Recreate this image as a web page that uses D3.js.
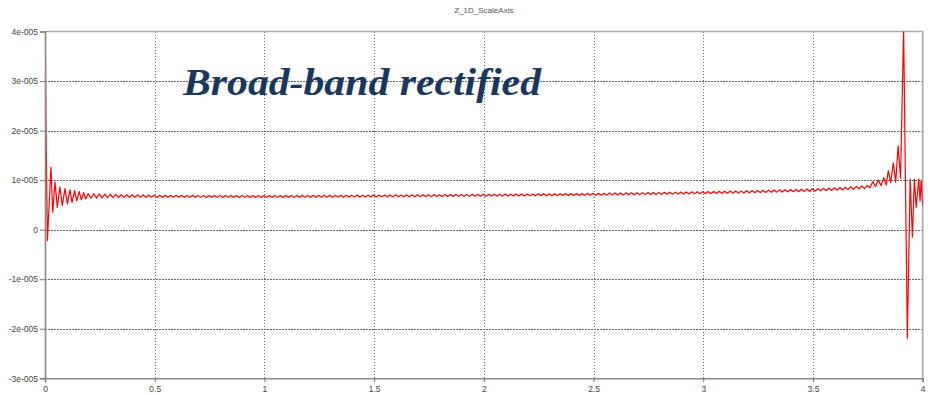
<!DOCTYPE html>
<html>
<head>
<meta charset="utf-8">
<script src="https://cdn.jsdelivr.net/npm/d3@7"></script>
<style>
  body { margin: 0; background: #fff; }
  svg { display: block; }
</style>
</head>
<body>
<svg id="chart" width="932" height="395"></svg>
<script>
// ---- data ----
const chartTitle = "Z_1D_ScaleAxis";
const annotation = "Broad-band rectified";

const xTicks = [0, 0.5, 1, 1.5, 2, 2.5, 3, 3.5, 4];
const xTickLabels = ["0", "0.5", "1", "1.5", "2", "2.5", "3", "3.5", "4"];
const yTicks = [-3e-5, -2e-5, -1e-5, 0, 1e-5, 2e-5, 3e-5, 4e-5];
const yTickLabels = ["-3e-005", "-2e-005", "-1e-005", "0", "1e-005", "2e-005", "3e-005", "4e-005"];

// signal values below are stored in micro-units (×1e-6)
const valueUnit = 1e-6;

// start-up transient
const headX = [0.000, 0.002, 0.004, 0.011, 0.027, 0.035, 0.0456, 0.056, 0.068, 0.079,
               0.091, 0.102, 0.114, 0.123, 0.135, 0.1445, 0.156, 0.1655, 0.176, 0.1855, 0.197];
const headY = [36.7, 36.3, 23.0, -2.2, 12.6, 3.5, 9.6, 4.5, 8.6, 4.9,
               8.3, 5.2, 8.1, 5.5, 7.9, 5.8, 7.7, 6.0, 7.5, 6.2, 7.3];

// steady ripple, sampled at a fixed step from bodyStart
const bodyStart = 0.21;
const bodyStep = 0.0125;
const bodyY = [
  6.35, 7.25, 6.38, 7.22, 6.42, 7.18, 6.45, 7.15, 6.48, 7.12, 6.50, 7.08, 6.52, 7.06, 6.53, 7.04, 6.55, 7.02, 6.55, 7.00,
  6.54, 6.98, 6.55, 6.97, 6.52, 6.96, 6.54, 6.95, 6.55, 6.94, 6.52, 6.95, 6.53, 6.93, 6.54, 6.92, 6.52, 6.93, 6.53, 6.92,
  6.52, 6.92, 6.51, 6.90, 6.53, 6.91, 6.52, 6.92, 6.50, 6.90, 6.52, 6.91, 6.53, 6.90, 6.51, 6.92, 6.52, 6.91, 6.53, 6.90,
  6.52, 6.91, 6.51, 6.92, 6.52, 6.90, 6.53, 6.92, 6.52, 6.91, 6.51, 6.93, 6.53, 6.92, 6.52, 6.91, 6.54, 6.93, 6.52, 6.92,
  6.55, 6.94, 6.54, 6.95, 6.56, 6.94, 6.55, 6.96, 6.56, 6.95, 6.57, 6.96, 6.56, 6.97, 6.58, 6.96, 6.57, 6.98, 6.58, 6.97,
  6.60, 6.99, 6.61, 7.00, 6.60, 7.01, 6.62, 7.00, 6.63, 7.02, 6.62, 7.03, 6.64, 7.02, 6.65, 7.04, 6.64, 7.05, 6.66, 7.04,
  6.67, 7.06, 6.68, 7.07, 6.67, 7.08, 6.69, 7.07, 6.70, 7.09, 6.71, 7.10, 6.70, 7.11, 6.72, 7.10, 6.73, 7.12, 6.72, 7.13,
  6.74, 7.14, 6.75, 7.15, 6.76, 7.14, 6.77, 7.16, 6.78, 7.17, 6.77, 7.18, 6.79, 7.17, 6.80, 7.19, 6.81, 7.20, 6.80, 7.21,
  6.82, 7.22, 6.83, 7.23, 6.84, 7.24, 6.85, 7.25, 6.86, 7.26, 6.87, 7.27, 6.88, 7.28, 6.89, 7.29, 6.90, 7.30, 6.91, 7.31,
  6.92, 7.33, 6.93, 7.34, 6.95, 7.36, 6.96, 7.37, 6.97, 7.39, 6.99, 7.40, 7.00, 7.42, 7.01, 7.43, 7.03, 7.45, 7.04, 7.46,
  7.06, 7.48, 7.07, 7.50, 7.09, 7.51, 7.11, 7.53, 7.12, 7.55, 7.14, 7.57, 7.16, 7.58, 7.18, 7.60, 7.19, 7.62, 7.21, 7.64,
  7.23, 7.66, 7.25, 7.68, 7.27, 7.70, 7.29, 7.72, 7.31, 7.74, 7.33, 7.77, 7.35, 7.79, 7.37, 7.81, 7.39, 7.83, 7.41, 7.86,
  7.44, 7.89, 7.46, 7.92, 7.49, 7.95, 7.51, 7.98, 7.54, 8.01, 7.57, 8.04, 7.60, 8.07, 7.63, 8.10, 7.66, 8.14, 7.69, 8.17,
  7.72, 8.21, 7.75, 8.25, 7.79, 8.30, 7.83, 8.35, 7.87, 8.40, 7.92, 8.46, 7.97, 8.52, 8.02, 8.59, 8.08, 8.66, 8.15, 8.74,
  8.22, 8.83, 8.30, 8.93, 8.45
];

// end-of-band resonance
const tailX = [3.7725, 3.785, 3.7975, 3.810, 3.8225, 3.834, 3.843, 3.854, 3.866, 3.877, 3.888, 3.899,
               3.913, 3.930, 3.943, 3.953, 3.962, 3.970, 3.982, 3.988, 3.993, 4.000];
const tailY = [9.7, 8.7, 10.0, 8.9, 10.5, 9.0, 11.9, 9.5, 13.5, 9.6, 16.9, 10.5,
               40.5, -21.9, 10.2, -1.5, 10.2, 4.5, 10.2, 5.8, 10.0, 4.8];

// ---- assemble the series ----
const series = [];
headX.forEach((x, i) => series.push([x, headY[i] * valueUnit]));
bodyY.forEach((v, i) => series.push([bodyStart + i * bodyStep, v * valueUnit]));
tailX.forEach((x, i) => series.push([x, tailY[i] * valueUnit]));

// ---- layout ----
const svg = d3.select("#chart");
const plot = { left: 45, top: 31.5, right: 922.7, bottom: 378.3 };

const x = d3.scaleLinear().domain([0, 4]).range([plot.left, plot.right]);
const y = d3.scaleLinear().domain([-3e-5, 4e-5]).range([plot.bottom, plot.top]);

// title
svg.append("text")
  .attr("x", (plot.left + plot.right) / 2)
  .attr("y", 12.5)
  .attr("text-anchor", "middle")
  .attr("font-family", "'Liberation Sans', Arial, sans-serif")
  .attr("font-size", 8)
  .attr("fill", "#555")
  .text(chartTitle);

// grid
const grid = svg.append("g").attr("stroke", "#666").attr("stroke-width", 1)
  .attr("stroke-dasharray", "1.5,1.5").attr("shape-rendering", "crispEdges");
grid.selectAll("line.gx").data(xTicks.filter(t => t > 0 && t < 4)).join("line")
  .attr("class", "gx")
  .attr("x1", d => Math.round(x(d)) + 0.5).attr("x2", d => Math.round(x(d)) + 0.5)
  .attr("y1", plot.top).attr("y2", plot.bottom);
grid.selectAll("line.gy").data(yTicks.filter(t => t > -3e-5 && t < 4e-5)).join("line")
  .attr("class", "gy")
  .attr("y1", d => Math.round(y(d)) + 0.5).attr("y2", d => Math.round(y(d)) + 0.5)
  .attr("x1", plot.left).attr("x2", plot.right);

// frame (top and right)
svg.append("path")
  .attr("d", `M${plot.left},${plot.top}H${plot.right}V${plot.bottom}`)
  .attr("fill", "none").attr("stroke", "#aaa").attr("stroke-width", 1.6);

// signal
svg.append("clipPath").attr("id", "plotClip")
  .append("rect")
  .attr("x", plot.left).attr("y", plot.top)
  .attr("width", plot.right - plot.left).attr("height", plot.bottom - plot.top);

svg.append("path")
  .datum(series)
  .attr("clip-path", "url(#plotClip)")
  .attr("fill", "none")
  .attr("stroke", "#ff0000")
  .attr("stroke-width", 1.2)
  .attr("stroke-linejoin", "round")
  .attr("d", d3.line().x(d => x(d[0])).y(d => y(d[1])));

// axes
const yAxis = d3.axisLeft(y).tickValues(yTicks)
  .tickFormat((d, i) => yTickLabels[i]).tickSize(5).tickPadding(2);
const xAxis = d3.axisBottom(x).tickValues(xTicks)
  .tickFormat((d, i) => xTickLabels[i]).tickSize(4).tickPadding(4);

const gy = svg.append("g").attr("transform", `translate(${plot.left},0)`).call(yAxis);
const gx = svg.append("g").attr("transform", `translate(0,${plot.bottom})`).call(xAxis);

[gx, gy].forEach(g => {
  g.select(".domain").attr("stroke", "#888").attr("stroke-width", 1.6);
  g.selectAll(".tick line").attr("stroke", "#777");
  g.selectAll(".tick text")
    .attr("font-family", "'Liberation Sans', Arial, sans-serif")
    .attr("font-size", 8.5)
    .attr("fill", "#444");
});

// annotation
svg.append("text")
  .attr("x", 183)
  .attr("y", 95)
  .attr("font-family", "'Liberation Serif', 'Times New Roman', serif")
  .attr("font-weight", "bold")
  .attr("font-style", "italic")
  .attr("font-size", 38)
  .attr("fill", "#17375E")
  .attr("textLength", 358)
  .attr("lengthAdjust", "spacingAndGlyphs")
  .text(annotation);
</script>
</body>
</html>
